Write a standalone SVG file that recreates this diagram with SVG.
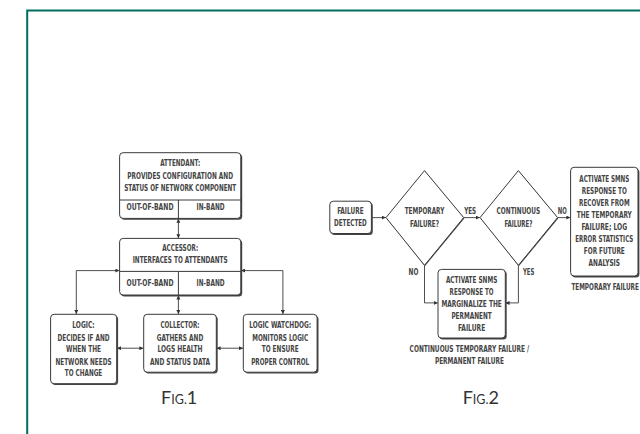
<svg xmlns="http://www.w3.org/2000/svg" width="640" height="434" viewBox="0 0 640 434">
<defs>
<marker id="ah" viewBox="0 0 6 6" refX="6" refY="3" markerWidth="4.5" markerHeight="4" markerUnits="userSpaceOnUse" orient="auto-start-reverse">
<path d="M0,0 L6,3 L0,6 z" fill="#333"/>
</marker>
</defs>
<style>
.t{font-family:"DejaVu Sans Condensed","DejaVu Sans","Liberation Sans",sans-serif;font-size:8.3px;font-weight:bold;fill:#444;text-anchor:middle;}
.box{fill:#fff;stroke:#3a3a3a;stroke-width:1;}
.sh{fill:#444;}
.ln{fill:none;stroke:#3a3a3a;stroke-width:1;}
.c{fill:none;stroke:#3a3a3a;stroke-width:0.9;marker-start:url(#ah);marker-end:url(#ah);}
.c1{fill:none;stroke:#3a3a3a;stroke-width:0.9;marker-end:url(#ah);}
.fig{font-family:Lato,"Open Sans","Liberation Sans",sans-serif;fill:#333;text-anchor:middle;}
</style>
<rect x="0" y="0" width="640" height="434" fill="#fff"/>
<path d="M27.2,440 V10.5 H645" fill="none" stroke="#006e5e" stroke-width="2"/>

<g id="connectors">
<line class="c" x1="178.4" y1="218.8" x2="178.4" y2="238.2"/>
<path class="c" d="M119.4,270.6 H76.3 V314"/>
<path class="c" d="M241,270.6 H282.9 V314"/>
<line class="c" x1="178.4" y1="295.4" x2="178.4" y2="314"/>
<line class="c" x1="117" y1="348.2" x2="143.4" y2="348.2"/>
<line class="c" x1="216.6" y1="348.2" x2="243" y2="348.2"/>
<line class="c1" x1="371.6" y1="217.6" x2="385.8" y2="217.6"/>
<line class="c1" x1="463.9" y1="217.6" x2="479.8" y2="217.6"/>
<line class="c1" x1="557.8" y1="217.6" x2="570.4" y2="217.6"/>
<path class="c1" d="M424.5,265.5 V302.9 H437.8"/>
<path class="c1" d="M518.4,265.5 V302.9 H505.5"/>
</g>

<g id="attendant">
<rect class="sh" x="121" y="154" width="121.2" height="65.7" rx="3.5"/>
<rect class="box" x="119.6" y="152.7" width="121.2" height="65.7" rx="3.5"/>
<line class="ln" x1="119.6" y1="200" x2="240.8" y2="200"/>
<line class="ln" x1="178.4" y1="200" x2="178.4" y2="218.4"/>
<text class="t" x="180.2" y="166" textLength="40" lengthAdjust="spacingAndGlyphs">ATTENDANT:</text>
<text class="t" x="180.2" y="178.5" textLength="105.7" lengthAdjust="spacingAndGlyphs">PROVIDES CONFIGURATION AND</text>
<text class="t" x="180.2" y="190.8" textLength="112" lengthAdjust="spacingAndGlyphs">STATUS OF NETWORK COMPONENT</text>
<text class="t" x="150" y="210" textLength="47" lengthAdjust="spacingAndGlyphs">OUT-OF-BAND</text>
<text class="t" x="210.6" y="210" textLength="28" lengthAdjust="spacingAndGlyphs">IN-BAND</text>
</g>

<g id="accessor">
<rect class="sh" x="121" y="239.8" width="121.2" height="56.6" rx="3.5"/>
<rect class="box" x="119.6" y="238.4" width="121.2" height="56.6" rx="3.5"/>
<line class="ln" x1="119.6" y1="271.4" x2="240.8" y2="271.4"/>
<line class="ln" x1="178.4" y1="271.4" x2="178.4" y2="295"/>
<text class="t" x="180.2" y="250.8" textLength="36" lengthAdjust="spacingAndGlyphs">ACCESSOR:</text>
<text class="t" x="180.2" y="263.4" textLength="95" lengthAdjust="spacingAndGlyphs">INTERFACES TO ATTENDANTS</text>
<text class="t" x="150" y="286.3" textLength="47" lengthAdjust="spacingAndGlyphs">OUT-OF-BAND</text>
<text class="t" x="210.6" y="286.3" textLength="28" lengthAdjust="spacingAndGlyphs">IN-BAND</text>
</g>

<g id="logic">
<rect class="sh" x="52" y="315.7" width="66.1" height="69.4" rx="3.5"/>
<rect class="box" x="50.6" y="314.3" width="66.1" height="69.4" rx="3.5"/>
<text class="t" x="83.5" y="328.3" textLength="22.4" lengthAdjust="spacingAndGlyphs">LOGIC:</text>
<text class="t" x="83.5" y="340.6" textLength="52" lengthAdjust="spacingAndGlyphs">DECIDES IF AND</text>
<text class="t" x="83.5" y="352.4" textLength="35" lengthAdjust="spacingAndGlyphs">WHEN THE</text>
<text class="t" x="83.5" y="364.6" textLength="56" lengthAdjust="spacingAndGlyphs">NETWORK NEEDS</text>
<text class="t" x="83.5" y="376" textLength="37.5" lengthAdjust="spacingAndGlyphs">TO CHANGE</text>
</g>

<g id="collector">
<rect class="sh" x="145.1" y="315.7" width="72.6" height="57.9" rx="3.5"/>
<rect class="box" x="143.7" y="314.3" width="72.6" height="57.9" rx="3.5"/>
<text class="t" x="180" y="328.3" textLength="39" lengthAdjust="spacingAndGlyphs">COLLECTOR:</text>
<text class="t" x="180" y="340.6" textLength="46.5" lengthAdjust="spacingAndGlyphs">GATHERS AND</text>
<text class="t" x="180" y="352.4" textLength="45" lengthAdjust="spacingAndGlyphs">LOGS HEALTH</text>
<text class="t" x="180" y="364.6" textLength="60" lengthAdjust="spacingAndGlyphs">AND STATUS DATA</text>
</g>

<g id="watchdog">
<rect class="sh" x="244.7" y="315.7" width="73.8" height="57.9" rx="3.5"/>
<rect class="box" x="243.3" y="314.3" width="73.8" height="57.9" rx="3.5"/>
<text class="t" x="280.2" y="328.3" textLength="62" lengthAdjust="spacingAndGlyphs">LOGIC WATCHDOG:</text>
<text class="t" x="280.2" y="340.6" textLength="56" lengthAdjust="spacingAndGlyphs">MONITORS LOGIC</text>
<text class="t" x="280.2" y="352.4" textLength="37" lengthAdjust="spacingAndGlyphs">TO ENSURE</text>
<text class="t" x="280.2" y="364.6" textLength="58" lengthAdjust="spacingAndGlyphs">PROPER CONTROL</text>
</g>

<g id="fig1">
<text class="fig" x="179.2" y="404"><tspan font-size="18">F</tspan><tspan font-size="12.5">IG.</tspan><tspan font-size="18">1</tspan></text>
</g>

<g id="failure-detected">
<rect class="sh" x="331.2" y="202.6" width="41.6" height="32.3" rx="3.5"/>
<rect class="box" x="329.8" y="201.2" width="41.6" height="32.3" rx="3.5"/>
<text class="t" x="350.4" y="214.4" textLength="26.5" lengthAdjust="spacingAndGlyphs">FAILURE</text>
<text class="t" x="350.4" y="226.3" textLength="32.7" lengthAdjust="spacingAndGlyphs">DETECTED</text>
</g>

<g id="temporary-decision">
<polygon points="424.9,171.1 464.3,218.5 424.9,266.2 387,218.5" fill="#444"/>
<polygon points="424.5,170.6 463.7,217.6 424.5,265.3 386,217.6" fill="#fff" stroke="#3a3a3a" stroke-width="1"/>
<text class="t" x="424.5" y="214.4" textLength="39.6" lengthAdjust="spacingAndGlyphs">TEMPORARY</text>
<text class="t" x="424.5" y="226.7" textLength="29" lengthAdjust="spacingAndGlyphs">FAILURE?</text>
<text class="t" x="470.2" y="213.6" textLength="12" lengthAdjust="spacingAndGlyphs">YES</text>
<text class="t" x="413.5" y="275.2" textLength="9.8" lengthAdjust="spacingAndGlyphs">NO</text>
</g>

<g id="continuous-decision">
<polygon points="518.8,171.1 558.2,218.5 518.8,266.2 481,218.5" fill="#444"/>
<polygon points="518.4,170.6 557.6,217.6 518.4,265.3 480,217.6" fill="#fff" stroke="#3a3a3a" stroke-width="1"/>
<text class="t" x="518.4" y="214.4" textLength="43.7" lengthAdjust="spacingAndGlyphs">CONTINUOUS</text>
<text class="t" x="518.4" y="226.7" textLength="28" lengthAdjust="spacingAndGlyphs">FAILURE?</text>
<text class="t" x="562.3" y="213.6" textLength="9" lengthAdjust="spacingAndGlyphs">NO</text>
<text class="t" x="528.6" y="275" textLength="11.4" lengthAdjust="spacingAndGlyphs">YES</text>
</g>

<g id="temporary-response">
<rect class="sh" x="572" y="168.7" width="67.4" height="108.7" rx="3.5"/>
<rect class="box" x="570.6" y="167.3" width="67.4" height="108.7" rx="3.5"/>
<text class="t" x="604.3" y="181.8" textLength="50" lengthAdjust="spacingAndGlyphs">ACTIVATE SMNS</text>
<text class="t" x="604.3" y="193.6" textLength="45" lengthAdjust="spacingAndGlyphs">RESPONSE TO</text>
<text class="t" x="604.3" y="205.9" textLength="50.6" lengthAdjust="spacingAndGlyphs">RECOVER FROM</text>
<text class="t" x="604.3" y="218.1" textLength="55" lengthAdjust="spacingAndGlyphs">THE TEMPORARY</text>
<text class="t" x="604.3" y="230" textLength="45.7" lengthAdjust="spacingAndGlyphs">FAILURE; LOG</text>
<text class="t" x="604.3" y="242.2" textLength="58" lengthAdjust="spacingAndGlyphs">ERROR STATISTICS</text>
<text class="t" x="604.3" y="254" textLength="41" lengthAdjust="spacingAndGlyphs">FOR FUTURE</text>
<text class="t" x="604.3" y="266.3" textLength="31.4" lengthAdjust="spacingAndGlyphs">ANALYSIS</text>
<text class="t" x="571.4" y="290" style="text-anchor:start" textLength="67.5" lengthAdjust="spacingAndGlyphs">TEMPORARY FAILURE</text>
</g>

<g id="permanent-response">
<rect class="sh" x="439.4" y="270.8" width="67.3" height="68.6" rx="3.5"/>
<rect class="box" x="438" y="269.4" width="67.3" height="68.6" rx="3.5"/>
<text class="t" x="471.6" y="283" textLength="51.4" lengthAdjust="spacingAndGlyphs">ACTIVATE SNMS</text>
<text class="t" x="471.6" y="295.2" textLength="44" lengthAdjust="spacingAndGlyphs">RESPONSE TO</text>
<text class="t" x="471.6" y="307" textLength="60.4" lengthAdjust="spacingAndGlyphs">MARGINALIZE THE</text>
<text class="t" x="471.6" y="319" textLength="40.4" lengthAdjust="spacingAndGlyphs">PERMANENT</text>
<text class="t" x="471.6" y="331.2" textLength="27.3" lengthAdjust="spacingAndGlyphs">FAILURE</text>
<text class="t" x="469.4" y="352.4" textLength="119.6" lengthAdjust="spacingAndGlyphs">CONTINUOUS TEMPORARY FAILURE /</text>
<text class="t" x="469.4" y="364.2" textLength="69" lengthAdjust="spacingAndGlyphs">PERMANENT FAILURE</text>
</g>

<g id="fig2">
<text class="fig" x="480.8" y="404"><tspan font-size="18">F</tspan><tspan font-size="12.5">IG.</tspan><tspan font-size="18">2</tspan></text>
</g>
</svg>
